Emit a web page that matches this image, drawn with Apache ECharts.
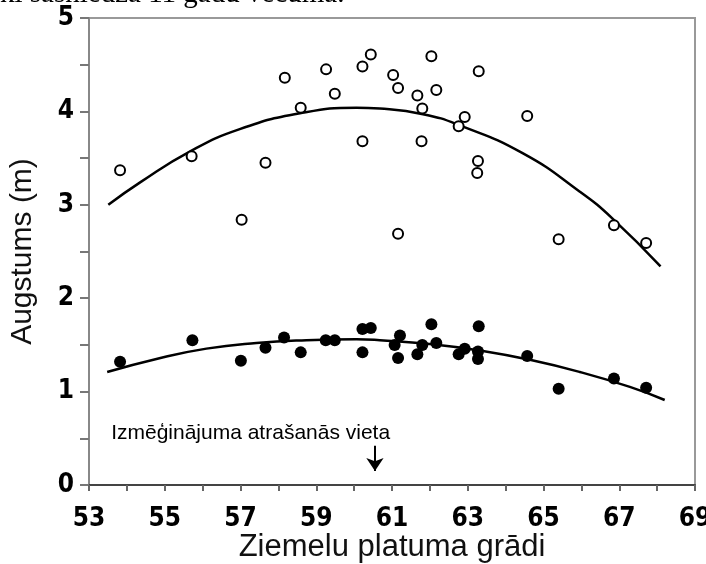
<!DOCTYPE html>
<html>
<head>
<meta charset="utf-8">
<script src="https://cdn.jsdelivr.net/npm/echarts@6/dist/echarts.min.js"></script>
<style>
  html, body { margin: 0; padding: 0; background: #fff; }
  #chart { width: 706px; height: 564px; }
</style>
</head>
<body>
<div id="chart"></div>
<script>
// open circles (upper group)
const openLat = [53.82, 55.71, 57.03, 57.66, 58.17, 58.59, 59.26, 59.49, 60.22, 60.44, 60.22,
  61.03, 61.16, 61.16, 62.04, 61.67, 62.17, 61.80, 61.78, 63.29, 62.92, 62.76, 63.27, 63.25,
  64.57, 65.40, 66.86, 67.71];
const openHeight = [3.37, 3.52, 2.84, 3.45, 4.36, 4.04, 4.45, 4.19, 4.48, 4.61, 3.68,
  4.39, 4.25, 2.69, 4.59, 4.17, 4.23, 4.03, 3.68, 4.43, 3.94, 3.84, 3.47, 3.34,
  3.95, 2.63, 2.78, 2.59];

// filled dots (lower group)
const filledLat = [53.82, 55.73, 57.01, 57.66, 58.15, 58.59, 59.25, 59.49, 60.22, 60.44, 60.22,
  61.07, 61.16, 61.21, 62.04, 61.67, 61.80, 62.17, 62.76, 62.92, 63.29, 63.27, 63.27,
  64.57, 65.40, 66.86, 67.71];
const filledHeight = [1.32, 1.55, 1.33, 1.47, 1.58, 1.42, 1.55, 1.55, 1.67, 1.68, 1.42,
  1.50, 1.36, 1.60, 1.72, 1.40, 1.50, 1.52, 1.40, 1.46, 1.70, 1.43, 1.35,
  1.38, 1.03, 1.14, 1.04];

// fitted curves
const upperFitLat = [53.51, 54.35, 55.66, 56.98, 58.57, 60.06, 60.68, 61.82, 62.79, 64.46, 65.96, 66.83, 68.09];
const upperFitHeight = [3.00, 3.24, 3.57, 3.81, 3.98, 4.04, 4.03, 3.97, 3.85, 3.55, 3.14, 2.85, 2.34];
const lowerFitLat = [53.48, 54.78, 56.10, 57.42, 58.74, 60.06, 60.68, 62.00, 63.32, 64.64, 65.96, 67.28, 68.20];
const lowerFitHeight = [1.21, 1.35, 1.46, 1.52, 1.55, 1.56, 1.55, 1.51, 1.44, 1.34, 1.21, 1.05, 0.91];

const siteLat = 60.55;
const siteLabel = 'Izmēģinājuma atrašanās vieta';

const zip = (xs, ys) => xs.map((x, i) => [x, ys[i]]);

const chart = echarts.init(document.getElementById('chart'));
const tickFont = "'Liberation Sans Narrow', 'DejaVu Sans Condensed', sans-serif";
const textFont = "Arial, 'Liberation Sans', sans-serif";

const option = {
  animation: false,
  grid: { left: 89, right: 11, top: 18, bottom: 79, show: false, containLabel: false, outerBoundsMode: 'none' },
  graphic: [
    {
      type: 'text',
      left: 0,
      top: -20,
      style: {
        text: 'ki sasniedza 11 gadu vecumā.',
        font: '29px "Liberation Serif", serif',
        fill: '#000'
      }
    },
    // frame top and right
    {
      type: 'rect',
      shape: { x: 89, y: 18, width: 606, height: 467 },
      style: { fill: 'none', stroke: '#999', lineWidth: 2 },
      z: 0
    }
  ],
  xAxis: {
    type: 'value',
    min: 53,
    max: 69,
    interval: 1,
    name: 'Ziemelu platuma grādi',
    nameLocation: 'middle',
    nameGap: 47,
    nameMoveOverlap: false,
    nameTextStyle: { fontFamily: textFont, fontSize: 31, color: '#111' },
    axisLine: { show: true, onZero: false, lineStyle: { color: '#444', width: 2 } },
    axisTick: { show: true, length: 6, lineStyle: { color: '#666', width: 2 } },
    axisLabel: {
      margin: 21,
      fontFamily: tickFont,
      fontWeight: 'bold',
      fontSize: 26,
      color: '#000',
      formatter: v => (v % 2 === 1 ? String(v) : '')
    },
    splitLine: { show: false }
  },
  yAxis: {
    type: 'value',
    min: 0,
    max: 5,
    interval: 0.5,
    name: 'Augstums (m)',
    nameLocation: 'middle',
    nameGap: 51,
    nameMoveOverlap: false,
    nameTextStyle: { fontFamily: textFont, fontSize: 30, color: '#111' },
    axisLine: { show: true, lineStyle: { color: '#888', width: 2 } },
    axisTick: { show: true, length: 9, lineStyle: { color: '#777', width: 2 } },
    axisLabel: {
      margin: 15,
      fontFamily: tickFont,
      fontWeight: 'bold',
      fontSize: 26,
      color: '#000',
      formatter: v => (Number.isInteger(v) ? String(v) : '')
    },
    splitLine: { show: false }
  },
  series: [
    {
      type: 'line',
      data: zip(upperFitLat, upperFitHeight),
      smooth: true,
      symbol: 'none',
      lineStyle: { color: '#000', width: 2.5 },
      z: 2
    },
    {
      type: 'line',
      data: zip(lowerFitLat, lowerFitHeight),
      smooth: true,
      symbol: 'none',
      lineStyle: { color: '#000', width: 2.5 },
      z: 2,
      markLine: {
        silent: true,
        symbol: ['none', 'arrow'],
        symbolSize: 13,
        lineStyle: { color: '#000', width: 2, type: 'solid', opacity: 1 },
        label: { show: false },
        data: [[{ coord: [siteLat, 0.42] }, { coord: [siteLat, 0.15] }]]
      },
      markPoint: {
        silent: true,
        symbol: 'circle',
        symbolSize: 0,
        label: {
          show: true,
          position: 'left',
          distance: 0,
          formatter: siteLabel,
          fontFamily: textFont,
          fontSize: 21,
          color: '#000'
        },
        data: [{ coord: [60.95, 0.55] }]
      }
    },
    {
      type: 'scatter',
      data: zip(openLat, openHeight),
      symbol: 'circle',
      symbolSize: 10,
      itemStyle: { color: '#fff', borderColor: '#000', borderWidth: 2, opacity: 1 },
      z: 3
    },
    {
      type: 'scatter',
      data: zip(filledLat, filledHeight),
      symbol: 'circle',
      symbolSize: 12,
      itemStyle: { color: '#000', opacity: 1 },
      z: 3
    }
  ]
};

chart.setOption(option);
</script>
</body>
</html>
